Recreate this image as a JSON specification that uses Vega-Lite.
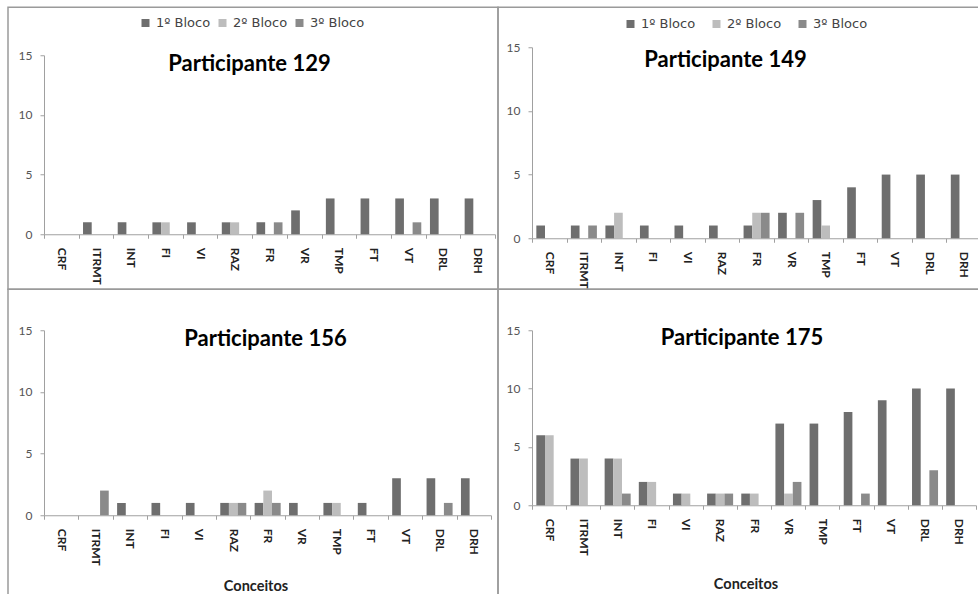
{
  "$schema": "https://vega.github.io/schema/vega-lite/v6.json",
  "description": "Conceitos por bloco para quatro participantes",
  "padding": {"left": 1, "top": 6.25, "right": 0, "bottom": 0},
  "columns": 2,
  "spacing": 0,
  "bounds": "flush",
  "resolve": {"scale": {"color": "independent"}, "legend": {"color": "independent"}},
  "datasets": {
    "blocos": [
      {"participante": 129, "conceito": "ITRMT", "bloco": "1º Bloco", "valor": 1},
      {"participante": 129, "conceito": "INT", "bloco": "1º Bloco", "valor": 1},
      {"participante": 129, "conceito": "FI", "bloco": "1º Bloco", "valor": 1},
      {"participante": 129, "conceito": "VI", "bloco": "1º Bloco", "valor": 1},
      {"participante": 129, "conceito": "RAZ", "bloco": "1º Bloco", "valor": 1},
      {"participante": 129, "conceito": "FR", "bloco": "1º Bloco", "valor": 1},
      {"participante": 129, "conceito": "VR", "bloco": "1º Bloco", "valor": 2},
      {"participante": 129, "conceito": "TMP", "bloco": "1º Bloco", "valor": 3},
      {"participante": 129, "conceito": "FT", "bloco": "1º Bloco", "valor": 3},
      {"participante": 129, "conceito": "VT", "bloco": "1º Bloco", "valor": 3},
      {"participante": 129, "conceito": "DRL", "bloco": "1º Bloco", "valor": 3},
      {"participante": 129, "conceito": "DRH", "bloco": "1º Bloco", "valor": 3},
      {"participante": 129, "conceito": "FI", "bloco": "2º Bloco", "valor": 1},
      {"participante": 129, "conceito": "RAZ", "bloco": "2º Bloco", "valor": 1},
      {"participante": 129, "conceito": "FR", "bloco": "3º Bloco", "valor": 1},
      {"participante": 129, "conceito": "VT", "bloco": "3º Bloco", "valor": 1},

      {"participante": 149, "conceito": "CRF", "bloco": "1º Bloco", "valor": 1},
      {"participante": 149, "conceito": "ITRMT", "bloco": "1º Bloco", "valor": 1},
      {"participante": 149, "conceito": "INT", "bloco": "1º Bloco", "valor": 1},
      {"participante": 149, "conceito": "FI", "bloco": "1º Bloco", "valor": 1},
      {"participante": 149, "conceito": "VI", "bloco": "1º Bloco", "valor": 1},
      {"participante": 149, "conceito": "RAZ", "bloco": "1º Bloco", "valor": 1},
      {"participante": 149, "conceito": "FR", "bloco": "1º Bloco", "valor": 1},
      {"participante": 149, "conceito": "VR", "bloco": "1º Bloco", "valor": 2},
      {"participante": 149, "conceito": "TMP", "bloco": "1º Bloco", "valor": 3},
      {"participante": 149, "conceito": "FT", "bloco": "1º Bloco", "valor": 4},
      {"participante": 149, "conceito": "VT", "bloco": "1º Bloco", "valor": 5},
      {"participante": 149, "conceito": "DRL", "bloco": "1º Bloco", "valor": 5},
      {"participante": 149, "conceito": "DRH", "bloco": "1º Bloco", "valor": 5},
      {"participante": 149, "conceito": "INT", "bloco": "2º Bloco", "valor": 2},
      {"participante": 149, "conceito": "FR", "bloco": "2º Bloco", "valor": 2},
      {"participante": 149, "conceito": "TMP", "bloco": "2º Bloco", "valor": 1},
      {"participante": 149, "conceito": "ITRMT", "bloco": "3º Bloco", "valor": 1},
      {"participante": 149, "conceito": "FR", "bloco": "3º Bloco", "valor": 2},
      {"participante": 149, "conceito": "VR", "bloco": "3º Bloco", "valor": 2},

      {"participante": 156, "conceito": "INT", "bloco": "1º Bloco", "valor": 1},
      {"participante": 156, "conceito": "FI", "bloco": "1º Bloco", "valor": 1},
      {"participante": 156, "conceito": "VI", "bloco": "1º Bloco", "valor": 1},
      {"participante": 156, "conceito": "RAZ", "bloco": "1º Bloco", "valor": 1},
      {"participante": 156, "conceito": "FR", "bloco": "1º Bloco", "valor": 1},
      {"participante": 156, "conceito": "VR", "bloco": "1º Bloco", "valor": 1},
      {"participante": 156, "conceito": "TMP", "bloco": "1º Bloco", "valor": 1},
      {"participante": 156, "conceito": "FT", "bloco": "1º Bloco", "valor": 1},
      {"participante": 156, "conceito": "VT", "bloco": "1º Bloco", "valor": 3},
      {"participante": 156, "conceito": "DRL", "bloco": "1º Bloco", "valor": 3},
      {"participante": 156, "conceito": "DRH", "bloco": "1º Bloco", "valor": 3},
      {"participante": 156, "conceito": "RAZ", "bloco": "2º Bloco", "valor": 1},
      {"participante": 156, "conceito": "FR", "bloco": "2º Bloco", "valor": 2},
      {"participante": 156, "conceito": "TMP", "bloco": "2º Bloco", "valor": 1},
      {"participante": 156, "conceito": "ITRMT", "bloco": "3º Bloco", "valor": 2},
      {"participante": 156, "conceito": "RAZ", "bloco": "3º Bloco", "valor": 1},
      {"participante": 156, "conceito": "FR", "bloco": "3º Bloco", "valor": 1},
      {"participante": 156, "conceito": "DRL", "bloco": "3º Bloco", "valor": 1},

      {"participante": 175, "conceito": "CRF", "bloco": "1º Bloco", "valor": 6},
      {"participante": 175, "conceito": "ITRMT", "bloco": "1º Bloco", "valor": 4},
      {"participante": 175, "conceito": "INT", "bloco": "1º Bloco", "valor": 4},
      {"participante": 175, "conceito": "FI", "bloco": "1º Bloco", "valor": 2},
      {"participante": 175, "conceito": "VI", "bloco": "1º Bloco", "valor": 1},
      {"participante": 175, "conceito": "RAZ", "bloco": "1º Bloco", "valor": 1},
      {"participante": 175, "conceito": "FR", "bloco": "1º Bloco", "valor": 1},
      {"participante": 175, "conceito": "VR", "bloco": "1º Bloco", "valor": 7},
      {"participante": 175, "conceito": "TMP", "bloco": "1º Bloco", "valor": 7},
      {"participante": 175, "conceito": "FT", "bloco": "1º Bloco", "valor": 8},
      {"participante": 175, "conceito": "VT", "bloco": "1º Bloco", "valor": 9},
      {"participante": 175, "conceito": "DRL", "bloco": "1º Bloco", "valor": 10},
      {"participante": 175, "conceito": "DRH", "bloco": "1º Bloco", "valor": 10},
      {"participante": 175, "conceito": "CRF", "bloco": "2º Bloco", "valor": 6},
      {"participante": 175, "conceito": "ITRMT", "bloco": "2º Bloco", "valor": 4},
      {"participante": 175, "conceito": "INT", "bloco": "2º Bloco", "valor": 4},
      {"participante": 175, "conceito": "FI", "bloco": "2º Bloco", "valor": 2},
      {"participante": 175, "conceito": "VI", "bloco": "2º Bloco", "valor": 1},
      {"participante": 175, "conceito": "RAZ", "bloco": "2º Bloco", "valor": 1},
      {"participante": 175, "conceito": "FR", "bloco": "2º Bloco", "valor": 1},
      {"participante": 175, "conceito": "VR", "bloco": "2º Bloco", "valor": 1},
      {"participante": 175, "conceito": "INT", "bloco": "3º Bloco", "valor": 1},
      {"participante": 175, "conceito": "RAZ", "bloco": "3º Bloco", "valor": 1},
      {"participante": 175, "conceito": "VR", "bloco": "3º Bloco", "valor": 2},
      {"participante": 175, "conceito": "FT", "bloco": "3º Bloco", "valor": 1},
      {"participante": 175, "conceito": "DRL", "bloco": "3º Bloco", "valor": 3}
    ]
  },
  "config": {
    "view": {"stroke": "#9a9a9a", "strokeWidth": 1.5},
    "font": "Lato",
    "bar": {"stroke": null},
    "axis": {
      "grid": false,
      "domainColor": "#a0a0a0",
      "tickColor": "#a0a0a0",
      "tickSize": 4,
      "minExtent": 0,
      "labelFont": "Lato",
      "labelFontSize": 12,
      "labelColor": "#555555",
      "titleFont": "Lato"
    },
    "axisX": {
      "labelAngle": 90,
      "labelFontWeight": "bold",
      "labelColor": "#222222",
      "labelPadding": 9,
      "tickBand": "extent",
      "titleFontSize": 14.5,
      "titleFontWeight": "bold",
      "titleColor": "#222222",
      "titleBaseline": "alphabetic",
      "titleAlign": "center"
    },
    "axisY": {"labelPadding": 8},
    "legend": {
      "labelFont": "DejaVu Sans",
      "labelFontSize": 13,
      "labelColor": "#444444",
      "symbolType": "square",
      "symbolSize": 64,
      "symbolStrokeWidth": 0,
      "labelOffset": 4,
      "padding": 0
    },
    "title": {
      "font": "Lato",
      "fontSize": 22,
      "fontWeight": "bold",
      "color": "#000000",
      "anchor": "middle"
    }
  },
  "concat": [
    {
      "width": 490,
      "height": 282,
      "data": {"name": "blocos"},
      "transform": [{"filter": "datum.participante === 129"}],
      "title": {"text": "Participante 129", "offset": -69, "dx": -3.5},
      "mark": "bar",
      "encoding": {
        "x": {
          "field": "conceito",
          "type": "nominal",
          "scale": {
            "domain": ["CRF", "ITRMT", "INT", "FI", "VI", "RAZ", "FR", "VR", "TMP", "FT", "VT", "DRL", "DRH"],
            "range": [36, 487],
            "paddingInner": 0,
            "paddingOuter": 0
          },
          "axis": {"title": null, "offset": -55}
        },
        "xOffset": {
          "field": "bloco",
          "scale": {"domain": ["1º Bloco", "2º Bloco", "3º Bloco"], "paddingInner": 0, "paddingOuter": 0.5}
        },
        "y": {
          "field": "valor",
          "type": "quantitative",
          "scale": {"domain": [0, 15], "range": [227, 48]},
          "axis": {"title": null, "offset": -36, "values": [0, 5, 10, 15]}
        },
        "color": {
          "field": "bloco",
          "type": "nominal",
          "scale": {"domain": ["1º Bloco", "2º Bloco", "3º Bloco"], "range": ["#6e6e6e", "#bdbdbd", "#8a8a8a"]},
          "legend": {"title": null, "orient": "none", "direction": "horizontal", "legendX": 131, "legendY": 9, "columnPadding": 5}
        }
      }
    },
    {
      "width": 490,
      "height": 282,
      "data": {"name": "blocos"},
      "transform": [{"filter": "datum.participante === 149"}],
      "title": {"text": "Participante 149", "offset": -65, "dx": -17.5},
      "mark": "bar",
      "encoding": {
        "x": {
          "field": "conceito",
          "type": "nominal",
          "scale": {
            "domain": ["CRF", "ITRMT", "INT", "FI", "VI", "RAZ", "FR", "VR", "TMP", "FT", "VT", "DRL", "DRH"],
            "range": [34, 483],
            "paddingInner": 0,
            "paddingOuter": 0
          },
          "axis": {"title": null, "offset": -51}
        },
        "xOffset": {
          "field": "bloco",
          "scale": {"domain": ["1º Bloco", "2º Bloco", "3º Bloco"], "paddingInner": 0, "paddingOuter": 0.5}
        },
        "y": {
          "field": "valor",
          "type": "quantitative",
          "scale": {"domain": [0, 15], "range": [231, 40]},
          "axis": {"title": null, "offset": -34, "values": [0, 5, 10, 15]}
        },
        "color": {
          "field": "bloco",
          "type": "nominal",
          "scale": {"domain": ["1º Bloco", "2º Bloco", "3º Bloco"], "range": ["#6e6e6e", "#bdbdbd", "#8a8a8a"]},
          "legend": {"title": null, "orient": "none", "direction": "horizontal", "legendX": 126, "legendY": 10, "columnPadding": 14}
        }
      }
    },
    {
      "width": 490,
      "height": 312,
      "data": {"name": "blocos"},
      "transform": [{"filter": "datum.participante === 156"}],
      "title": {"text": "Participante 156", "offset": -62, "dx": 12.5},
      "mark": "bar",
      "encoding": {
        "x": {
          "field": "conceito",
          "type": "nominal",
          "scale": {
            "domain": ["CRF", "ITRMT", "INT", "FI", "VI", "RAZ", "FR", "VR", "TMP", "FT", "VT", "DRL", "DRH"],
            "range": [36, 483],
            "paddingInner": 0,
            "paddingOuter": 0
          },
          "axis": {"title": "Conceitos", "offset": -86, "titleX": 247.5, "titleY": 75}
        },
        "xOffset": {
          "field": "bloco",
          "scale": {"domain": ["1º Bloco", "2º Bloco", "3º Bloco"], "paddingInner": 0, "paddingOuter": 0.5}
        },
        "y": {
          "field": "valor",
          "type": "quantitative",
          "scale": {"domain": [0, 15], "range": [226, 41]},
          "axis": {"title": null, "offset": -36, "values": [0, 5, 10, 15]}
        },
        "color": {
          "field": "bloco",
          "type": "nominal",
          "scale": {"domain": ["1º Bloco", "2º Bloco", "3º Bloco"], "range": ["#6e6e6e", "#bdbdbd", "#8a8a8a"]},
          "legend": null
        }
      }
    },
    {
      "width": 490,
      "height": 312,
      "data": {"name": "blocos"},
      "transform": [{"filter": "datum.participante === 175"}],
      "title": {"text": "Participante 175", "offset": -61, "dx": -1},
      "mark": "bar",
      "encoding": {
        "x": {
          "field": "conceito",
          "type": "nominal",
          "scale": {
            "domain": ["CRF", "ITRMT", "INT", "FI", "VI", "RAZ", "FR", "VR", "TMP", "FT", "VT", "DRL", "DRH"],
            "range": [34, 478],
            "paddingInner": 0,
            "paddingOuter": 0
          },
          "axis": {"title": "Conceitos", "offset": -96, "titleX": 247.5, "titleY": 83}
        },
        "xOffset": {
          "field": "bloco",
          "scale": {"domain": ["1º Bloco", "2º Bloco", "3º Bloco"], "paddingInner": 0, "paddingOuter": 0.5}
        },
        "y": {
          "field": "valor",
          "type": "quantitative",
          "scale": {"domain": [0, 15], "range": [216, 41]},
          "axis": {"title": null, "offset": -34, "values": [0, 5, 10, 15]}
        },
        "color": {
          "field": "bloco",
          "type": "nominal",
          "scale": {"domain": ["1º Bloco", "2º Bloco", "3º Bloco"], "range": ["#6e6e6e", "#bdbdbd", "#8a8a8a"]},
          "legend": null
        }
      }
    }
  ]
}
